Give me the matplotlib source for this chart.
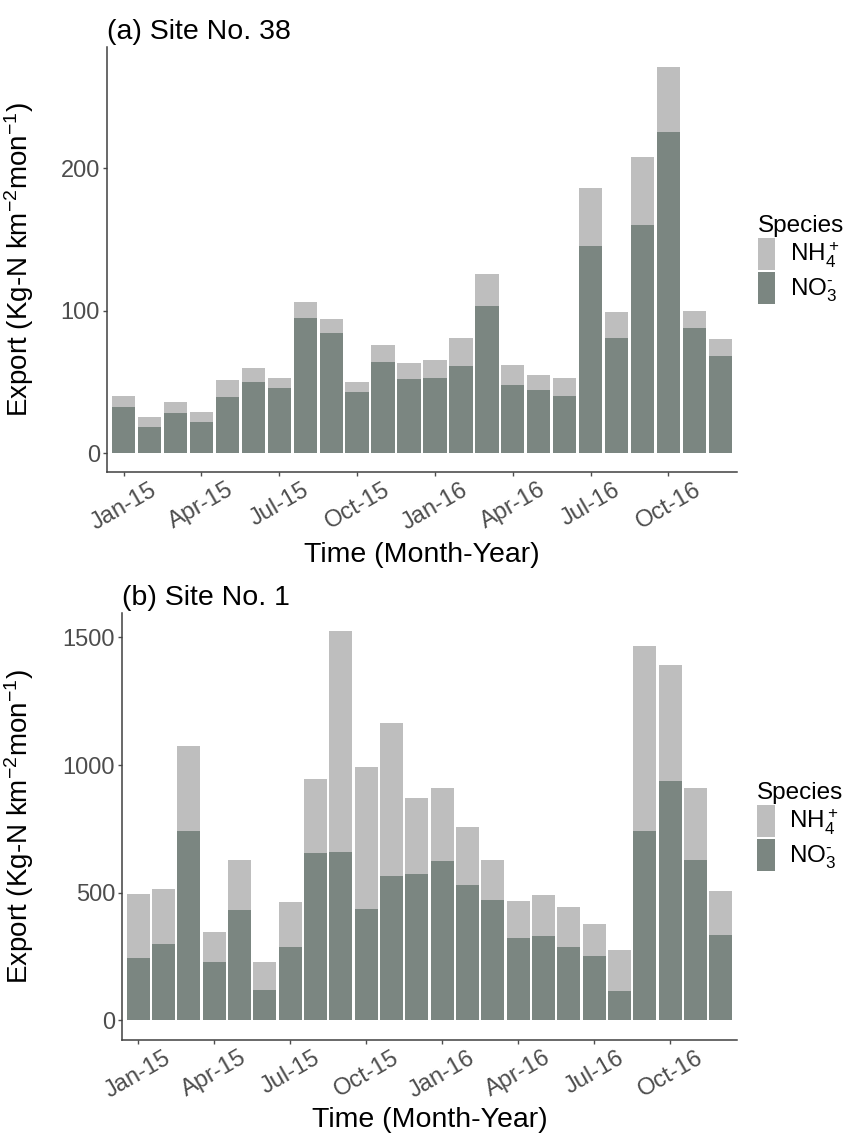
import numpy as np
import matplotlib
matplotlib.use("Agg")
import matplotlib.pyplot as plt

plt.rcParams['font.family'] = ['Liberation Sans', 'DejaVu Sans']
plt.rcParams['mathtext.fontset'] = 'custom'
plt.rcParams['mathtext.rm'] = 'Liberation Sans'
plt.rcParams['mathtext.it'] = 'Liberation Sans:italic'
plt.rcParams['mathtext.default'] = 'regular'

# months Jan-15 .. Dec-16
months = ["Jan-15", "Feb-15", "Mar-15", "Apr-15", "May-15", "Jun-15",
          "Jul-15", "Aug-15", "Sep-15", "Oct-15", "Nov-15", "Dec-15",
          "Jan-16", "Feb-16", "Mar-16", "Apr-16", "May-16", "Jun-16",
          "Jul-16", "Aug-16", "Sep-16", "Oct-16", "Nov-16", "Dec-16"]
tick_labels = ["Jan-15", "Apr-15", "Jul-15", "Oct-15",
               "Jan-16", "Apr-16", "Jul-16", "Oct-16"]

# (a) Site No. 38
site38_no3 = [32, 18, 28, 22, 39, 50, 46, 95, 84, 43, 64, 52,
              53, 61, 103, 48, 44, 40, 145, 81, 160, 225, 88, 68]
site38_nh4 = [8, 7, 8, 7, 12, 10, 7, 11, 10, 7, 12, 11,
              12, 20, 23, 14, 11, 13, 41, 18, 48, 46, 12, 12]

# (b) Site No. 1
site1_no3 = [243, 299, 742, 228, 430, 118, 287, 655, 658, 434, 564, 572,
             625, 529, 470, 322, 329, 287, 250, 116, 742, 937, 628, 333]
site1_nh4 = [253, 214, 333, 119, 198, 108, 177, 292, 868, 559, 602, 299,
             283, 228, 158, 145, 160, 158, 128, 160, 725, 455, 280, 174]

species = ["NH$_4^+$", "NO$_3^{\u2010}$"]
col_nh4 = "#bebebe"
col_no3 = "#7b8681"

W, H = 855, 1138
fig = plt.figure(figsize=(W / 100, H / 100), dpi=100, facecolor="white")


def px_axes(left, top, right, bottom):
    return fig.add_axes([left / W, 1 - bottom / H, (right - left) / W, (bottom - top) / H])


def draw_panel(ax, no3, nh4, title, yticks, ylim, ylab_x, xlab_y):
    x = np.arange(len(months))
    ax.bar(x, no3, width=0.9, color=col_no3, label=species[1])
    ax.bar(x, nh4, width=0.9, bottom=no3, color=col_nh4, label=species[0])
    ax.set_xlim(-0.64, len(months) - 1 + 0.64)
    ax.set_ylim(*ylim)
    ax.set_xticks(x[::3])
    ax.set_xticklabels(tick_labels, rotation=30, ha="center", fontsize=17, color="#4d4d4d")
    ax.set_yticks(yticks)
    ax.set_yticklabels([str(v) for v in yticks], fontsize=17, color="#4d4d4d")
    ax.tick_params(axis="both", length=3, width=1, color="#4d4d4d", pad=2)
    for s in ["top", "right"]:
        ax.spines[s].set_visible(False)
    for s in ["left", "bottom"]:
        ax.spines[s].set_color("#404040")
        ax.spines[s].set_linewidth(1.1)
    ax.set_title(title, loc="left", fontsize=20.5, pad=6)
    ax.set_ylabel("Export (Kg-N km$^{-2}$mon$^{-1}$)", fontsize=20)
    ax.yaxis.set_label_coords(ylab_x, 0.5)
    ax.set_xlabel("Time (Month-Year)", fontsize=20.5)
    ax.xaxis.set_label_coords(0.5, xlab_y)
    ax.xaxis.label.set_verticalalignment("center")
    handles, labels = ax.get_legend_handles_labels()
    ax.legend(handles[::-1], labels[::-1], title="Species", loc="center left",
              bbox_to_anchor=(1.033, 0.5), frameon=False, fontsize=17.5,
              title_fontsize=17.5, handlelength=0.72, handleheight=1.65,
              handletextpad=0.6, labelspacing=0.06, borderpad=0,
              borderaxespad=0, alignment="left")


ax1 = px_axes(107, 47, 737, 472)
draw_panel(ax1, site38_no3, site38_nh4, "(a) Site No. 38", [0, 100, 200],
           (-13.3, 285), (36 - 107) / 630, (472 - 555) / 425)

ax2 = px_axes(122, 613, 737, 1040)
draw_panel(ax2, site1_no3, site1_nh4, "(b) Site No. 1", [0, 500, 1000, 1500],
           (-78, 1596), (36 - 122) / 615, (1040 - 1120) / 427)

fig.savefig("out.png", dpi=100, facecolor="white")
